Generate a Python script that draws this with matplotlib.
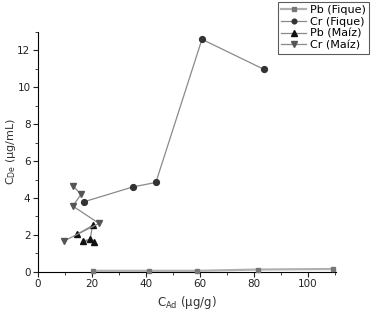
import matplotlib
matplotlib.use("Agg")
import matplotlib.pyplot as plt
from matplotlib.ticker import MultipleLocator

pb_fique_x = [20.4, 41.3, 59.0, 81.7, 109.5]
pb_fique_y = [0.05, 0.05, 0.05, 0.12, 0.15]
cr_fique_x = [17.2, 35.2, 43.7, 60.8, 83.8]
cr_fique_y = [3.80, 4.60, 4.84, 12.60, 10.97]
pb_maiz_x = [14.4, 20.2, 19.3, 16.8, 20.9]
pb_maiz_y = [2.02, 2.51, 1.75, 1.68, 1.59]
cr_maiz_x = [13.1, 15.9, 12.9, 22.6, 9.8]
cr_maiz_y = [4.64, 4.19, 3.56, 2.62, 1.68]

fig = plt.figure(figsize=(3.77, 3.16), dpi=100)
ax = fig.add_axes([0.101, 0.140, 0.790, 0.759])

lc = '#8a8a8a'
ax.plot(pb_fique_x, pb_fique_y, '-s', color='#b0b0b0', mfc='#777777', mec='#777777', ms=3.5, lw=1.6, label='Pb (Fique)', clip_on=False, zorder=3)
ax.plot(cr_fique_x, cr_fique_y, '-o', color=lc, mfc='#333333', mec='#333333', ms=4.2, lw=0.9, label='Cr (Fique)', clip_on=False, zorder=3)
ax.plot(pb_maiz_x, pb_maiz_y, '-^', color=lc, mfc='#111111', mec='#111111', ms=4.8, lw=0.9, label='Pb (Maíz)', clip_on=False, zorder=3)
ax.plot(cr_maiz_x, cr_maiz_y, '-v', color=lc, mfc='#555555', mec='#555555', ms=4.8, lw=0.9, label='Cr (Maíz)', clip_on=False, zorder=3)

ax.set_xlim(0, 110.5)
ax.set_ylim(0, 13)
ax.xaxis.set_major_locator(MultipleLocator(20))
ax.xaxis.set_minor_locator(MultipleLocator(10))
ax.yaxis.set_major_locator(MultipleLocator(2))
ax.yaxis.set_minor_locator(MultipleLocator(1))
for s in ['top', 'right']:
    ax.spines[s].set_visible(False)
ax.tick_params(which='both', direction='out', labelsize=7.5, colors='#222222', pad=2)
ax.tick_params(which='major', length=3.5)
ax.tick_params(which='minor', length=2)

ax.set_xlabel('C$_{\\mathregular{Ad}}$ (µg/g)', fontsize=8.5, color='#333333', labelpad=3)
ax.set_ylabel('C$_{\\mathregular{De}}$ (µg/mL)', fontsize=8, color='#333333')
ax.yaxis.set_label_coords(-0.068, 0.5)

leg = ax.legend(loc='upper left', bbox_to_anchor=(278/377, 1 - 2/316), bbox_transform=fig.transFigure,
                fontsize=8, frameon=True, fancybox=False, edgecolor='#333333', markerscale=0.8,
                handlelength=2.2, labelspacing=0.15, borderpad=0.3, handletextpad=0.4, borderaxespad=0)
leg.get_frame().set_linewidth(0.8)

fig.savefig('out.png', dpi=100)
